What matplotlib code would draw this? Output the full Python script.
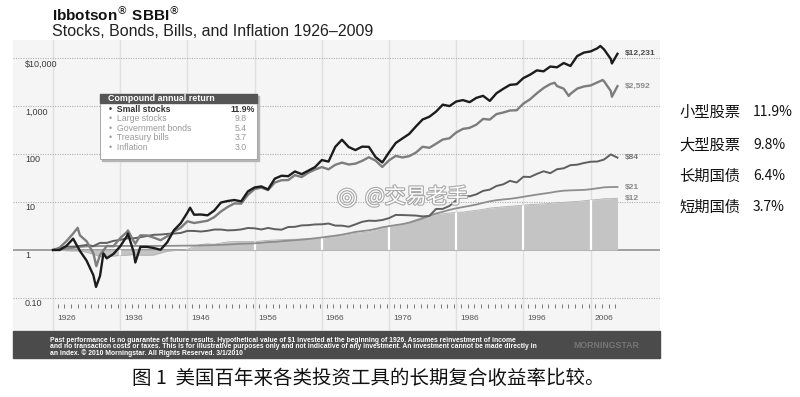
import numpy as np
import matplotlib
matplotlib.use("Agg")
import matplotlib.pyplot as plt
import matplotlib.patheffects as pe
from matplotlib.patches import Rectangle

# ---------------- data (year-end wealth index, $1 at end of 1925) ----------------
years = list(range(1925, 2010))

small_stocks = [
    1.00, 1.00, 1.22, 1.72, 0.96, 0.60, 0.30, 0.29, 0.67, 0.83,
    1.19, 1.95, 0.91, 1.16, 1.16, 1.10, 1.01, 1.45, 2.59, 3.60,
    6.02, 5.43, 5.49, 5.28, 6.64, 9.76, 10.5, 11.0, 10.3, 16.6,
    20.1, 21.1, 18.3, 30.6, 35.2, 34.5, 43.3, 38.0, 45.0, 53.4,
    74.8, 69.5, 140.9, 198.3, 139.9, 120.7, 142.2, 141.0, 86.3, 66.6,
    108.0, 169.5, 211.1, 261.4, 374.1, 523.6, 596.7, 763.8, 1066, 995.7,
    1241, 1326, 1202, 1478, 1628, 1277, 1847, 2279, 2757, 2842,
    3822, 4495, 5519, 5278, 6641, 6402, 7860, 6816, 10953, 12968,
    13706, 15927, 15100, 9556, 12231]

large_stocks = [
    1.00, 1.12, 1.53, 2.20, 2.02, 1.52, 0.86, 0.79, 1.21, 1.20,
    1.77, 2.37, 1.54, 2.02, 2.01, 1.81, 1.60, 1.93, 2.43, 2.91,
    3.97, 3.65, 3.85, 4.07, 4.84, 6.36, 7.89, 9.34, 9.25, 14.1,
    18.6, 19.9, 17.7, 25.4, 28.4, 28.6, 36.3, 33.1, 40.8, 47.5,
    53.4, 48.0, 59.5, 66.1, 60.5, 62.9, 71.9, 85.5, 73.0, 53.7,
    73.6, 91.2, 84.6, 90.2, 106.8, 141.6, 134.6, 163.5, 200.3, 212.8,
    281.2, 333.2, 350.6, 408.6, 537.8, 521.1, 679.6, 731.4, 805.3, 815.9,
    1122.6, 1380.4, 1840.9, 2367.1, 2865.4, 2604.4, 2294.9, 1787.8, 2300.6, 2551.0,
    2676.2, 3098.9, 3269.2, 2059.8, 2591.5]

gov_bonds = [
    1.000, 1.078, 1.174, 1.175, 1.215, 1.272, 1.204, 1.407, 1.406, 1.547,
    1.624, 1.746, 1.750, 1.847, 1.957, 2.076, 2.095, 2.164, 2.201, 2.263,
    2.502, 2.493, 2.426, 2.513, 2.668, 2.668, 2.563, 2.593, 2.683, 2.870,
    2.833, 2.676, 2.880, 2.713, 2.650, 3.012, 3.042, 3.254, 3.292, 3.410,
    3.435, 3.558, 3.227, 3.215, 3.050, 3.418, 3.869, 4.086, 4.041, 4.217,
    4.609, 5.383, 5.347, 5.282, 5.218, 5.014, 5.115, 7.169, 7.189, 8.290,
    10.859, 13.520, 13.158, 14.435, 17.048, 18.110, 21.598, 23.338, 27.600, 25.487,
    33.553, 33.222, 38.500, 43.657, 39.860, 48.113, 50.387, 58.560, 59.895, 64.852,
    69.010, 69.677, 76.661, 98.0, 84.0]

treasury_bills = [
    1.000, 1.033, 1.065, 1.103, 1.155, 1.183, 1.196, 1.207, 1.209, 1.211,
    1.213, 1.215, 1.217, 1.217, 1.217, 1.217, 1.218, 1.221, 1.225, 1.229,
    1.233, 1.237, 1.243, 1.253, 1.266, 1.281, 1.300, 1.322, 1.346, 1.358,
    1.379, 1.413, 1.457, 1.479, 1.522, 1.562, 1.597, 1.642, 1.694, 1.755,
    1.823, 1.910, 1.985, 2.091, 2.225, 2.380, 2.483, 2.573, 2.753, 2.971,
    3.141, 3.301, 3.466, 3.713, 4.094, 4.551, 5.199, 5.749, 6.250, 6.864,
    7.375, 7.839, 8.316, 8.850, 9.588, 10.331, 10.918, 11.307, 11.652, 12.162,
    12.871, 13.538, 14.250, 14.942, 15.641, 16.563, 17.197, 17.480, 17.659, 17.871,
    18.426, 19.302, 20.203, 20.506, 20.530]

inflation = [
    1.000, 0.985, 0.965, 0.955, 0.957, 0.899, 0.814, 0.730, 0.734, 0.749,
    0.771, 0.780, 0.804, 0.782, 0.778, 0.786, 0.862, 0.942, 0.972, 0.993,
    1.015, 1.199, 1.307, 1.343, 1.318, 1.395, 1.477, 1.490, 1.499, 1.492,
    1.497, 1.540, 1.586, 1.614, 1.638, 1.663, 1.674, 1.695, 1.723, 1.743,
    1.777, 1.836, 1.892, 1.981, 2.102, 2.218, 2.292, 2.371, 2.579, 2.894,
    3.097, 3.246, 3.466, 3.778, 4.281, 4.812, 5.242, 5.445, 5.652, 5.875,
    6.097, 6.166, 6.438, 6.722, 7.034, 7.464, 7.693, 7.916, 8.133, 8.351,
    8.563, 8.847, 8.998, 9.143, 9.389, 9.707, 9.857, 10.091, 10.281, 10.616,
    10.968, 11.245, 11.705, 11.716, 12.017]

# intra-year extremes (time in decimal years)
small_extra_t = [1932.40, 1933.50, 1937.15, 1938.25, 1946.40, 2007.45, 2009.17]
small_extra_v = [0.17, 0.85, 2.2, 0.55, 7.6, 17800, 7700]
large_extra_t = [1929.67, 1932.45, 1937.15, 1938.25, 2000.65, 2002.75, 2007.80, 2009.17]
large_extra_v = [2.9, 0.46, 2.55, 1.35, 3050, 1620, 3480, 1560]

end_labels = ["$12,231", "$2,592", "$84", "$21", "$12"]
ytick_vals = [10000, 1000, 100, 10, 1, 0.1]
ytick_labels = ["$10,000", "1,000", "100", "10", "1", "0.10"]
decades = list(range(1926, 2007, 10))

legend_names = ["Small stocks", "Large stocks", "Government bonds", "Treasury bills", "Inflation"]
legend_rates = ["11.9%", "9.8", "5.4", "3.7", "3.0"]

cn_names = ["小型股票", "大型股票", "长期国债", "短期国债"]
cn_rates = ["11.9%", "9.8%", "6.4%", "3.7%"]

title1 = r"Ibbotson$^{\circledR}$ SBBI$^{\circledR}$"
title2 = "Stocks, Bonds, Bills, and Inflation 1926–2009"
footer_lines = [
    "Past performance is no guarantee of future results. Hypothetical value of $1 invested at the beginning of 1926. Assumes reinvestment of income",
    "and no transaction costs or taxes. This is for illustrative purposes only and not indicative of any investment. An investment cannot be made directly in",
    "an index. © 2010 Morningstar. All Rights Reserved. 3/1/2010",
]
caption = "图 1  美国百年来各类投资工具的长期复合收益率比较。"
watermark = "@交易老手"

# ---------------- figure ----------------
plt.rcParams["font.family"] = ["Liberation Sans", "DejaVu Sans"]
CJK = ["Noto Sans CJK SC", "DejaVu Sans"]
W, H = 800, 397
fig = plt.figure(figsize=(W / 100, H / 100), dpi=100)
fig.patch.set_facecolor("white")


def fx(px):
    return px / W


def fy(py):
    return 1 - py / H


PX0, PX1, PY0, PY1 = 13, 660, 40, 330
X0PX, PXYR, Y1PX, PXDEC = 53, 6.72, 250, 48
ax = fig.add_axes([fx(PX0), fy(PY1), fx(PX1) - fx(PX0), fy(PY0) - fy(PY1)])
ax.set_facecolor("#f5f5f5")
ax.set_yscale("log")
ax.set_xlim(1926 + (PX0 - X0PX) / PXYR, 1926 + (PX1 - X0PX) / PXYR)
ax.set_ylim(10 ** ((Y1PX - PY1) / PXDEC), 10 ** ((Y1PX - PY0) / PXDEC))
ax.tick_params(which="both", length=0, labelleft=False, labelbottom=False)
for s in ax.spines.values():
    s.set_visible(False)

t_end = np.array(years, dtype=float) + 1.0


def merged(base_v, extra_t, extra_v):
    t = np.concatenate([t_end, extra_t])
    v = np.concatenate([np.array(base_v, float), extra_v])
    o = np.argsort(t)
    return t[o], v[o]


# vertical grid
for d in decades:
    ax.axvline(d, color="#e0e0e0", lw=1.0, zorder=0.5)
# horizontal grid
for v in ytick_vals:
    if v == 1:
        ax.axhline(v, color="#9a9a9a", lw=1.3, zorder=1)
    else:
        ax.axhline(v, color="#b0b0b0", lw=0.8, ls=(0, (1, 1.2)), zorder=1)

# inflation area
infl = np.array(inflation)
fill = ax.fill_between(t_end, 1, infl, color="#c4c4c4", lw=0, zorder=2)
ax.plot(t_end, infl, color="#b0b0b0", lw=0.6, zorder=2.1)
for d in decades:
    ln = ax.axvline(d, color="white", lw=1.6, zorder=2.2)
    ln.set_clip_path(fill.get_paths()[0], ax.transData)

# lines
ax.plot(t_end, treasury_bills, color="#8e8e8e", lw=1.3, zorder=3)
ax.plot(t_end, gov_bonds, color="#5f5f5f", lw=1.4, zorder=3.1)
lt, lv = merged(large_stocks, large_extra_t, large_extra_v)
ax.plot(lt, lv, color="#7d7d7d", lw=1.7, zorder=3.2)
st, sv = merged(small_stocks, small_extra_t, small_extra_v)
ax.plot(st, sv, color="#1c1c1c", lw=1.7, zorder=3.3)

# end labels
ends = [small_stocks[-1], large_stocks[-1], gov_bonds[-1], treasury_bills[-1], inflation[-1]]
end_cols = ["#4a4a4a", "#8a8a8a", "#777777", "#8a8a8a", "#8a8a8a"]
for lab, v, c in zip(end_labels, ends, end_cols):
    ax.annotate(lab, xy=(t_end[-1], v), xytext=(5.5, 0), textcoords="offset points",
                va="center", ha="left", fontsize=6, fontweight="bold", color=c, zorder=4)

# y labels (inside panel)
for v, lab in zip(ytick_vals, ytick_labels):
    ax.annotate(lab, xy=((25 - PX0) / (PX1 - PX0), v), xycoords=ax.get_yaxis_transform(),
                xytext=(0, -4.3), textcoords="offset points", va="center", ha="left",
                fontsize=6.5, color="#3a3a3a")

# year ticks and labels
yr = np.arange(1926, 2010)
ax.plot(yr + 0.7, np.full(len(yr), (PY1 - 306) / (PY1 - PY0)), transform=ax.get_xaxis_transform(),
        ls="none", marker="|", ms=2.6, mew=0.7, color="#777777", zorder=4)
for d in decades:
    ax.text(d + 0.6, (PY1 - 318) / (PY1 - PY0), str(d), transform=ax.get_xaxis_transform(),
            ha="left", va="center", fontsize=6, color="#555555")

# ---------------- overlay (pixel coordinates) ----------------
ov = fig.add_axes([0, 0, 1, 1], zorder=5)
ov.set_xlim(0, W)
ov.set_ylim(H, 0)
ov.axis("off")

# titles
ov.text(52, 14, title1, fontsize=11, fontweight="bold", va="center", ha="left", color="#111111")
ov.text(52, 31.5, title2, fontsize=11.5, va="center", ha="left", color="#222222")

# footer
ov.add_patch(Rectangle((PX0, 331), PX1 - PX0, 27, color="#4b4b4b", zorder=1))
for i, line in enumerate(footer_lines):
    ov.text(50, 340 + i * 6.3, line, fontsize=4.85, fontweight="bold", color="white",
            va="center", ha="left", zorder=2)
ov.text(606, 345, "MORNINGSTAR", fontsize=6.3, fontweight="bold", color="#767676",
        va="center", ha="center", zorder=2)

# legend box
ov.add_patch(Rectangle((102, 96), 157, 65, color="#b5b5b5", zorder=1))
ov.add_patch(Rectangle((100, 94), 157, 65, fc="white", ec="#9a9a9a", lw=0.6, zorder=2))
ov.add_patch(Rectangle((100, 94), 157, 9, color="#555555", zorder=3))
ov.text(108, 98.5, "Compound annual return", fontsize=6.4, fontweight="bold", color="white",
        va="center", ha="left", zorder=4)
row_y = [109.3, 118.7, 128.3, 138.0, 147.3]
for i, (nm, rt, y) in enumerate(zip(legend_names, legend_rates, row_y)):
    first = i == 0
    col = "#333333" if first else "#9a9a9a"
    wt = "bold" if first else "normal"
    ov.text(109, y, "•  " + nm, fontsize=6.3, fontweight=wt, color=col, va="center", ha="left", zorder=4)
    ov.text(255 if first else 247, y, rt, fontsize=6.3, fontweight=wt, color=col,
            va="center", ha="right", zorder=4)

# watermark
ov.text(365, 197, watermark, fontsize=15, family=CJK, color="white", va="center", ha="left",
        path_effects=[pe.withStroke(linewidth=1.6, foreground="#a8a8a8")], zorder=6)
ov.text(347, 197, "◎", fontsize=17, family=["DejaVu Sans"], color="white", va="center", ha="center",
        path_effects=[pe.withStroke(linewidth=1.6, foreground="#a8a8a8")], zorder=6)

# right-side Chinese labels
cn_y = [112, 145, 176, 207]
for nm, rt, y in zip(cn_names, cn_rates, cn_y):
    ov.text(679, y, nm, fontsize=11, family=CJK, color="#111111", va="center", ha="left")
    ov.text(753, y, rt, fontsize=10, family=CJK, color="#111111", va="center", ha="left")

# caption
ov.text(132, 378, caption, fontsize=14, family=CJK, color="#111111", va="center", ha="left")

fig.savefig("out.png", dpi=100, facecolor="white")
